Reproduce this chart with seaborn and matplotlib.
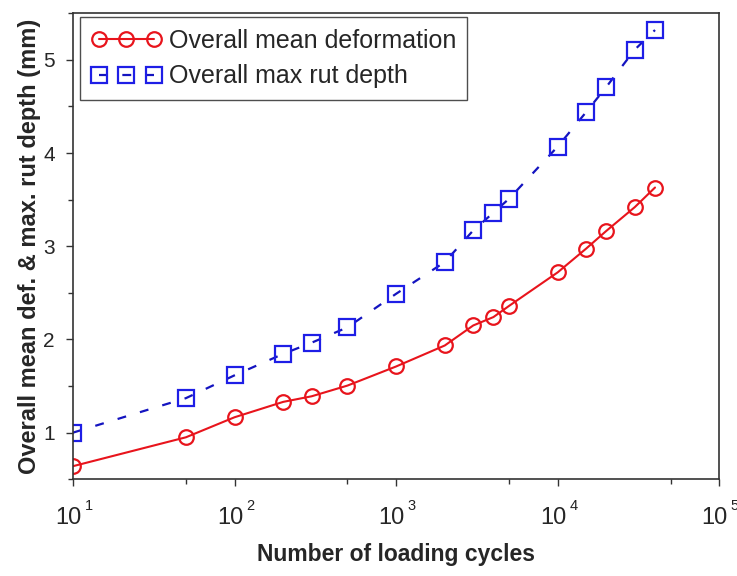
import matplotlib
matplotlib.use("Agg")
import matplotlib.pyplot as plt
import matplotlib.ticker as mticker
import matplotlib.transforms as mtransforms
import numpy as np
import pandas as pd
import seaborn as sns

# Loading cycles at which measurements were taken
cycles = [10, 50, 100, 200, 300, 500, 1000, 2000, 3000, 4000, 5000,
          10000, 15000, 20000, 30000, 40000]
# Overall mean deformation (mm)
mean_def = [0.64, 0.95, 1.165, 1.33, 1.39, 1.505, 1.71, 1.935, 2.15, 2.24, 2.36,
            2.72, 2.975, 3.165, 3.42, 3.63]
# Overall maximum rut depth (mm)
max_rut = [1.0, 1.37, 1.615, 1.845, 1.965, 2.13, 2.49, 2.83, 3.17, 3.36, 3.51,
           4.07, 4.44, 4.71, 5.11, 5.32]
# Decade exponents labelled on the x axis
decades = [1, 2, 3, 4, 5]

df = pd.DataFrame({"cycles": cycles, "mean": mean_def, "max": max_rut})

sns.set_theme(style="ticks")
plt.rcParams["font.family"] = ["Liberation Sans", "DejaVu Sans"]

fig = plt.figure(figsize=(7.37, 5.76), dpi=100)
ax = fig.add_axes([0.099, 0.168, 0.877, 0.809])

red = "#e8141c"
blue_line = "#1414c0"
blue_mark = "#1e1ee6"

sns.lineplot(data=df, x="cycles", y="mean", ax=ax, color=red, lw=1.5,
             marker="o", markersize=10.5, markerfacecolor="none",
             markeredgecolor=red, markeredgewidth=1.6,
             label="Overall mean deformation")
sns.lineplot(data=df, x="cycles", y="max", ax=ax, color=blue_line, lw=1.6,
             linestyle=(0, (4, 6.5)),
             marker="s", markersize=11, markerfacecolor="none",
             markeredgecolor=blue_mark, markeredgewidth=1.6,
             label="Overall max rut depth")

ax.set_xscale("log")
ax.set_xlim(10, 1e5)
ax.set_ylim(0.5, 5.5)

# Major decade ticks labelled "10" with a small raised exponent beside them
dec_vals = [10.0 ** k for k in decades]
ax.set_xticks(dec_vals, ["10"] * len(dec_vals))
ax.xaxis.set_minor_locator(mticker.LogLocator(base=10, subs=[5], numticks=10))
ax.xaxis.set_minor_formatter(mticker.NullFormatter())
ax.yaxis.set_major_locator(mticker.MultipleLocator(1))
ax.yaxis.set_minor_locator(mticker.MultipleLocator(0.5))

ax.tick_params(axis="both", which="major", direction="out", length=5,
               width=1, color="#333333")
ax.tick_params(axis="both", which="minor", direction="out", length=3.5,
               width=1, color="#333333")
ax.tick_params(axis="y", labelsize=15, pad=8)
ax.tick_params(axis="x", labelsize=17, pad=15)

shift = mtransforms.ScaledTranslation(-4.5 / 100, 0, fig.dpi_scale_trans)
for lbl in ax.get_xticklabels():
    lbl.set_transform(lbl.get_transform() + shift)

for k, v in zip(decades, dec_vals):
    ax.annotate(str(k), xy=(v, 0), xycoords=ax.get_xaxis_transform(),
                xytext=(15.5, -20), textcoords="offset pixels",
                ha="center", va="top", fontsize=10.5, color="#222222")

for s in ax.spines.values():
    s.set_linewidth(1.2)
    s.set_color("#333333")

ax.set_xlabel("Number of loading cycles", fontsize=16.5, fontweight="bold",
              labelpad=10)
ax.set_ylabel("Overall mean def. & max. rut depth (mm)", fontsize=17,
              fontweight="bold", labelpad=2)

leg = ax.legend(loc="upper left", bbox_to_anchor=(0.011, 0.991),
                borderaxespad=0, numpoints=3, handlelength=2.8,
                fontsize=18, frameon=True, fancybox=False,
                handletextpad=0.3, borderpad=0.45, labelspacing=0.47)
leg.get_frame().set_edgecolor("#222222")
leg.get_frame().set_linewidth(1.0)

fig.savefig("out.png", dpi=100)
